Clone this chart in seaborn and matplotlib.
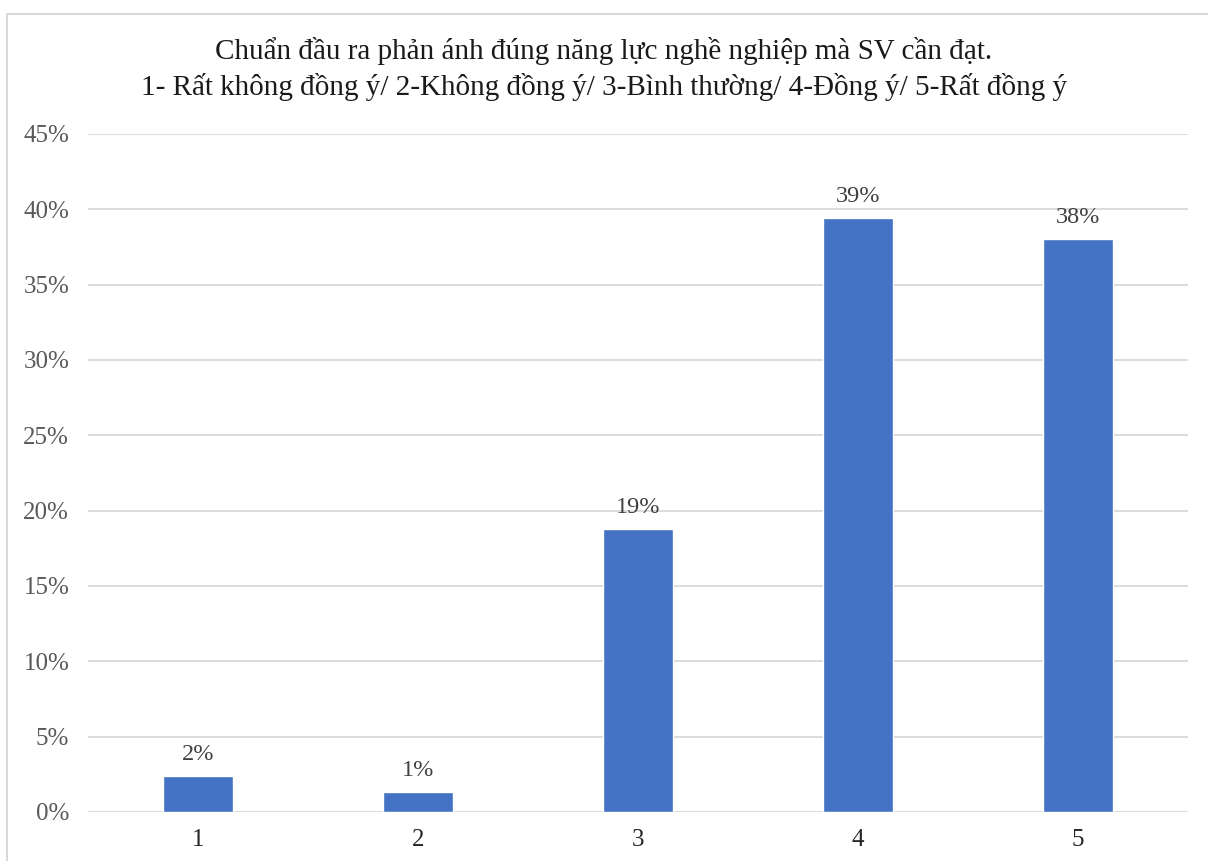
import matplotlib
matplotlib.use("Agg")
import matplotlib.pyplot as plt
from matplotlib.patches import Rectangle
from matplotlib.ticker import PercentFormatter
import seaborn as sns
import pandas as pd

categories = ["1", "2", "3", "4", "5"]
values = [0.024, 0.013, 0.188, 0.394, 0.380]
labels = ["2%", "1%", "19%", "39%", "38%"]
y_ticks = [0, 0.05, 0.10, 0.15, 0.20, 0.25, 0.30, 0.35, 0.40, 0.45]
title = ("Chuẩn đầu ra phản ánh đúng năng lực nghề nghiệp mà SV cần đạt.\n"
         "1- Rất không đồng ý/ 2-Không đồng ý/ 3-Bình thường/ 4-Đồng ý/ 5-Rất đồng ý")

sns.set_theme(style="white")
plt.rcParams["font.family"] = ["Liberation Serif", "DejaVu Serif"]

df = pd.DataFrame({"cat": categories, "val": values})

fig = plt.figure(figsize=(12.08, 8.61), dpi=100)
fig.patch.set_facecolor("white")
fig.patches.append(Rectangle((7/1208, -0.05), 1.1, (861-14)/861 + 0.05,
                             transform=fig.transFigure, fill=False,
                             edgecolor="#D9D9D9", linewidth=1.5, zorder=0))
ax = fig.add_axes([88/1208, 49/861, 1100/1208, 678/861])

sns.barplot(data=df, x="cat", y="val", color="#4472C4", saturation=1,
            width=0.315, ax=ax, zorder=3)

ax.set_ylim(0, 0.45)
ax.set_xlim(-0.5, 4.5)
ax.set_yticks(y_ticks)
ax.yaxis.set_major_formatter(PercentFormatter(1.0, decimals=0))
ax.yaxis.grid(True, color="#D9D9D9", linewidth=1.3, zorder=0)
ax.set_axisbelow(True)
for s in ax.spines.values():
    s.set_visible(False)
ax.set_xlabel("")
ax.set_ylabel("")
ax.tick_params(axis="y", labelsize=18, labelcolor="#595959", length=0, pad=13.5)
ax.tick_params(axis="x", labelsize=18, labelcolor="#262626", length=0, pad=12)

for i, (v, lab) in enumerate(zip(values, labels)):
    ax.annotate(lab, (i, v), xytext=(0, 8), textcoords="offset points",
                ha="center", va="bottom", fontsize=17.5, color="#404040")

fig.text(0.5, (861-69)/861, title, ha="center", va="center",
         fontsize=21, color="#1a1a1a", linespacing=1.32)

fig.savefig("out.png", dpi=100)
